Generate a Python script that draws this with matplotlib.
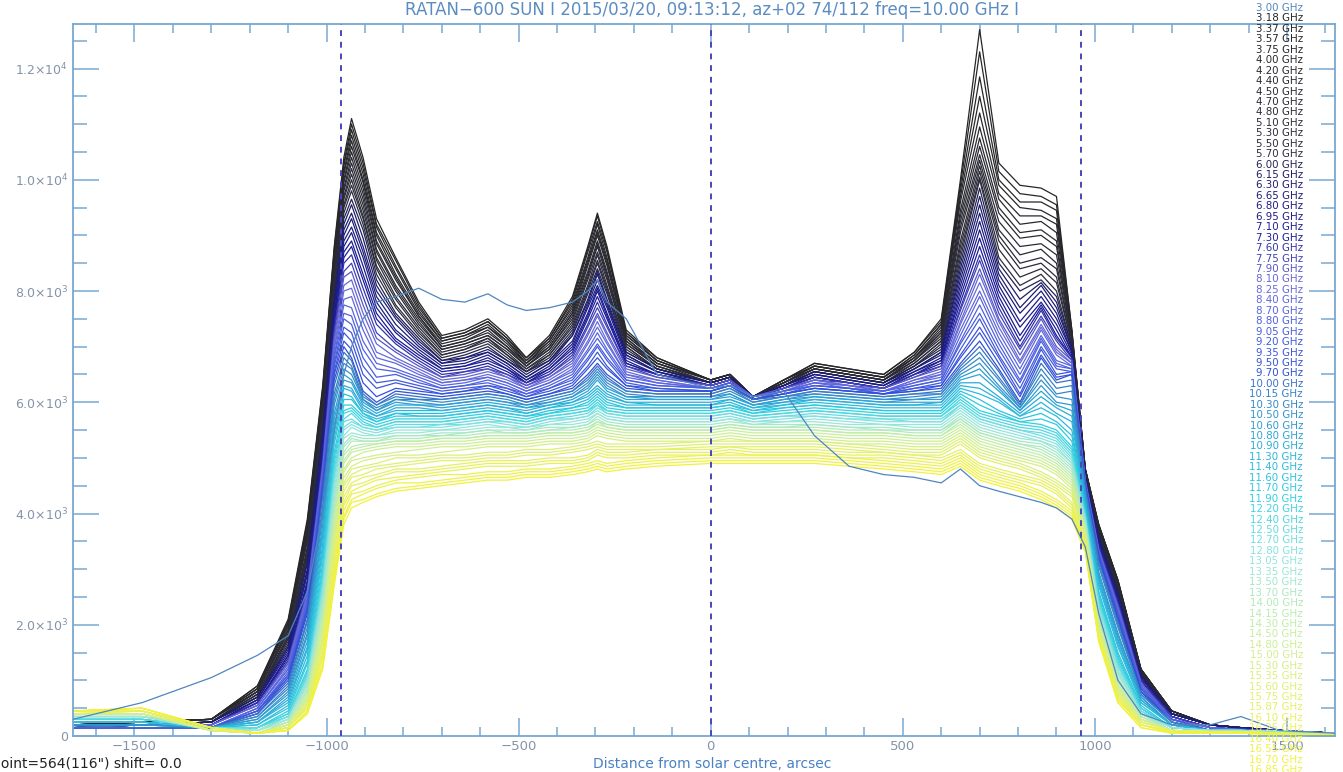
import matplotlib
matplotlib.use("Agg")
import matplotlib.pyplot as plt
from matplotlib.colors import LinearSegmentedColormap
from matplotlib.ticker import MultipleLocator, FuncFormatter
import numpy as np

# frequencies, GHz (index 0 is the odd 3.00 GHz scan)
FREQS = [3.00, 3.18, 3.37, 3.57, 3.75, 4.00, 4.20, 4.40, 4.50, 4.70, 4.80,
         5.10, 5.30, 5.50, 5.70, 6.00, 6.15, 6.30, 6.65, 6.80, 6.95, 7.10,
         7.30, 7.60, 7.75, 7.90, 8.10, 8.25, 8.40, 8.70, 8.80, 9.05, 9.20,
         9.35, 9.50, 9.70, 10.00, 10.15, 10.30, 10.50, 10.60, 10.80, 10.90,
         11.30, 11.40, 11.60, 11.70, 11.90, 12.20, 12.40, 12.50, 12.70, 12.80,
         13.05, 13.35, 13.50, 13.70, 14.00, 14.15, 14.30, 14.50, 14.80, 15.00,
         15.30, 15.35, 15.60, 15.75, 15.87, 16.10, 16.25, 16.40, 16.55, 16.70,
         16.85]

# scan positions, arcsec from solar centre
X_NODES = [-1660, -1480, -1300, -1180, -1100, -1050, -1010, -980, -955, -935,
           -905, -870, -820, -760, -700, -640, -580, -530, -480, -420,
           -360, -320, -295, -270, -220, -140, 0, 50, 110, 190,
           270, 360, 450, 530, 600, 650, 700, 750, 805, 860,
           900, 940, 975, 1010, 1060, 1120, 1200, 1300, 1380, 1480, 1625]

# intensities, in units of 100
ODD_300 = [3, 6, 10.5, 14.5, 18, 26, 40, 55, 65, 70, 75, 78, 79, 80.5, 78.5, 78, 79.5, 77.5, 76.5, 77, 78, 80, 82, 78, 75, 65, 62.5, 63, 61, 62, 54, 48.5, 47, 46.5, 45.5, 48, 45, 44, 43, 42, 41, 39, 34, 22, 10, 4, 2, 2, 3.5, 1, 0.5]

DARK = [
    [2, 2.5, 3, 9, 21, 39, 63, 88, 104, 111, 104, 93, 86, 78, 72, 73, 75, 72, 68, 72, 79, 88, 94, 88, 73, 68, 64, 65, 61, 64, 67, 66, 65, 69, 75, 100, 127, 103, 99, 98.5, 97, 73, 48, 38, 28, 12, 4.5, 2, 1.5, 1, 0.5],
    [2, 2.5, 3, 9, 20.5, 38.5, 62.5, 87.5, 103, 110, 103, 92, 85.5, 77.5, 71.5, 72.5, 74.5, 71.5, 68, 71.5, 78.5, 87.5, 93.5, 87.5, 72.5, 68, 64, 65, 61, 64, 67, 66, 65, 69, 74.5, 99, 123, 101.5, 97.5, 97, 95.5, 73, 48, 38, 28, 12, 4.5, 2, 1.5, 1, 0.5],
    [2, 2.5, 3, 8.5, 20.5, 38, 62, 87, 102.5, 109, 102, 91.5, 84.5, 77, 71.5, 72.5, 74.5, 71.5, 67.5, 71.5, 78, 87, 92.5, 87, 72.5, 67.5, 64, 65, 61, 64, 66.5, 65.5, 64.5, 68.5, 74, 98, 118.5, 100, 96, 96, 94.5, 72.5, 48, 38, 28, 12, 4.5, 2, 1.5, 1, 0.5],
    [2, 2.5, 3, 8.5, 20, 37.5, 61.5, 86.5, 101.5, 108, 101, 90.5, 84, 76.5, 71, 72, 74, 71, 67.5, 71, 77.5, 86, 92, 86, 72, 67.5, 64, 65, 61, 64, 66.5, 65.5, 64.5, 68.5, 74, 97, 115, 99, 95, 94.5, 93, 72.5, 48, 37.5, 27.5, 12, 4.5, 2, 1.5, 1, 0.5],
    [2, 2.5, 3, 8.5, 20, 37, 61, 85.5, 101, 107, 100, 90, 83, 76, 71, 72, 73.5, 71, 67, 71, 77, 85.5, 91, 85.5, 72, 67.5, 64, 65, 61, 63.5, 66.5, 65.5, 64.5, 68, 73.5, 96, 112, 97.5, 93.5, 93.5, 92, 72, 48, 37.5, 27.5, 12, 4.5, 2, 1.5, 1, 0.5],
    [2, 2.5, 3, 8, 19.5, 36.5, 60.5, 85, 100, 106, 99.5, 89, 82.5, 75.5, 70.5, 71.5, 73.5, 70.5, 67, 70.5, 76.5, 85, 90.5, 85, 71.5, 67, 64, 65, 61, 63.5, 66.5, 65.5, 64.5, 68, 73, 94.5, 109.5, 96.5, 92, 92.5, 90.5, 72, 47.5, 37.5, 27.5, 11.5, 4.5, 2, 1.5, 1, 0.5],
    [2, 2.5, 3, 8, 19, 36, 60, 84.5, 99.5, 105, 98.5, 88.5, 82, 75.5, 70, 71, 73, 70, 67, 70, 76, 84.5, 90, 84.5, 71.5, 67, 64, 65, 61, 63.5, 66, 65, 64, 68, 72.5, 93.5, 107.5, 95, 90.5, 91, 89, 71.5, 47.5, 37, 27, 11.5, 4.5, 2, 1.5, 1, 0.5],
    [2, 2, 2.5, 8, 19, 35.5, 59.5, 83.5, 98.5, 104, 97.5, 87.5, 81, 75, 70, 71, 72.5, 70, 66.5, 70, 76, 83.5, 89, 83.5, 71, 67, 63.5, 64.5, 61, 63.5, 66, 65, 64, 67.5, 72.5, 92.5, 106, 94, 89.5, 90, 88, 71.5, 47.5, 37, 27, 11.5, 4, 2, 1.5, 1, 0.5],
    [2, 2, 2.5, 8, 18.5, 35, 59, 83, 98, 103, 96.5, 87, 80.5, 74.5, 69.5, 70.5, 72, 69.5, 66.5, 69.5, 75.5, 83, 88.5, 83, 71, 66.5, 63.5, 64.5, 61, 63.5, 66, 65, 64, 67.5, 72, 91.5, 104.5, 92.5, 88, 88.5, 86.5, 71.5, 47.5, 37, 27, 11.5, 4, 2, 1.5, 1, 0.5],
    [2, 2, 2.5, 7.5, 18, 34, 58, 82.5, 97, 102, 95.5, 86, 80, 74, 69.5, 70.5, 72, 69.5, 66.5, 69.5, 75, 82.5, 88, 82.5, 70.5, 66.5, 63.5, 64.5, 61, 63.5, 66, 65, 64, 67.5, 71.5, 90.5, 103.5, 91, 86.5, 87.5, 85, 71, 47.5, 36.5, 26.5, 11.5, 4, 2, 1.5, 1, 0.5],
    [2, 2, 2.5, 7.5, 18, 33.5, 57.5, 82, 96.5, 101, 94.5, 85.5, 79, 73.5, 69, 70, 71.5, 69, 66, 69, 74.5, 82, 87, 82, 70.5, 66.5, 63.5, 64.5, 61, 63, 66, 65, 64, 67, 71, 89, 102.5, 90, 85, 86, 84, 71, 47, 36.5, 26.5, 11, 4, 2, 1.5, 1, 0.5],
    [2, 2, 2.5, 7.5, 17.5, 33, 57, 81, 95.5, 100, 93.5, 84.5, 78.5, 73, 68.5, 69.5, 71.5, 68.5, 66, 68.5, 74, 81, 86.5, 81, 70, 66, 63.5, 64.5, 61, 63, 65.5, 64.5, 63.5, 67, 71, 88, 101.5, 89, 84, 85, 82.5, 70.5, 47, 36.5, 26.5, 11, 4, 2, 1.5, 1, 0.5],
    [2, 2, 2.5, 7, 17.5, 32.5, 56.5, 80.5, 95, 99, 93, 84, 77.5, 72.5, 68.5, 69.5, 71, 68.5, 65.5, 68.5, 73.5, 80.5, 85.5, 80.5, 70, 66, 63.5, 64.5, 61, 63, 65.5, 64.5, 63.5, 66.5, 70.5, 87, 100.5, 87.5, 82.5, 84, 81.5, 70.5, 47, 36, 26, 11, 4, 2, 1.5, 1, 0.5],
    [2, 2, 2.5, 7, 17, 32, 56, 80, 94, 98, 92, 83, 77, 72, 68, 69, 70.5, 68, 65.5, 68, 73, 80, 85, 80, 69.5, 66, 63.5, 64.5, 61, 63, 65.5, 64.5, 63.5, 66.5, 70, 86, 100, 86, 81, 83, 80, 70, 47, 36, 26, 11, 4, 2, 1.5, 1, 0.5],
]

NAVY = [
    [2, 2, 2.5, 7, 16.5, 31.5, 55, 79, 93, 96.5, 91, 82, 76, 71.5, 67.5, 68.5, 70, 67.5, 65.5, 67.5, 72.5, 79.5, 84, 79.5, 69, 66, 63.5, 64.5, 61, 63, 65.5, 64.5, 63.5, 66.5, 69.5, 85, 98.5, 85, 80, 82, 79, 70, 47, 36, 26, 11, 4, 2, 1.5, 1, 0.5],
    [2, 2, 2.5, 7, 16, 31, 54.5, 78.5, 92, 95.5, 89.5, 81, 75.5, 71, 67.5, 68, 69.5, 67.5, 65, 67.5, 72, 78.5, 83.5, 78.5, 69, 66, 63.5, 64.5, 61, 63, 65.5, 64.5, 63.5, 66, 69, 84, 97, 84, 78.5, 81.5, 78, 69.5, 47, 35.5, 25.5, 11, 4, 2, 1.5, 1, 0.5],
    [2, 2, 2.5, 6.5, 16, 30, 54, 77.5, 91, 94, 88, 80, 75, 70.5, 67, 68, 69, 67, 64.5, 67, 72, 78, 83, 78, 68.5, 65.5, 63.5, 64.5, 61, 63, 65, 64, 63, 66, 69, 83, 95.5, 83, 77, 81, 77, 69.5, 46.5, 35.5, 25, 10.5, 4, 2, 1.5, 1, 0.5],
    [1.5, 2, 2, 6.5, 15.5, 29.5, 53, 77, 90, 93, 87, 79, 74, 70, 67, 67.5, 69, 67, 64.5, 67, 71, 77.5, 82, 77.5, 68.5, 65.5, 63, 64, 61, 63, 65, 64, 63, 66, 68.5, 82, 94, 82, 76, 80, 76, 69, 46.5, 35, 25, 10.5, 4, 2, 1.5, 1, 0.5],
    [1.5, 2, 2, 6.5, 15, 29, 52, 76, 89, 91.5, 86, 78, 73, 69.5, 66.5, 67, 68.5, 66.5, 64, 66.5, 70.5, 77, 81, 77, 68, 65.5, 63, 64, 61, 62.5, 65, 64, 63, 65.5, 68, 81, 92.5, 81, 74.5, 79, 75, 69, 46.5, 35, 25, 10.5, 3.5, 1.5, 1.2, 1, 0.5],
    [1.5, 2, 2, 6, 14.5, 28, 51.5, 75.5, 88, 90.5, 84.5, 77, 72.5, 69, 66, 66.5, 68, 66, 64, 66, 70, 76, 80.5, 76, 67.5, 65, 63, 64, 61, 62.5, 64.5, 63.5, 62.5, 65.5, 67.5, 80, 91, 80, 73.5, 78, 74, 68.5, 46, 34.5, 24.5, 10, 3.5, 1.5, 1.2, 1, 0.5],
    [1.5, 2, 2, 6, 14.5, 27.5, 50.5, 74.5, 87, 89, 83, 76, 71.5, 68.5, 66, 66.5, 67.5, 66, 63.5, 66, 69.5, 75.5, 80, 75.5, 67, 65, 63, 64, 61, 62.5, 64.5, 63.5, 62.5, 65, 67.5, 79, 89.5, 79, 72, 77.5, 73, 68, 46, 34, 24, 10, 3.5, 1.5, 1.2, 1, 0.5],
    [1.5, 2, 2, 6, 14, 27, 50, 74, 86, 88, 82, 75, 71, 68, 65.5, 66, 67, 65.5, 63.5, 65.5, 69, 75, 79, 75, 67, 65, 63, 64, 61, 62.5, 64.5, 63.5, 62.5, 65, 67, 78, 88, 78, 71, 77, 72, 68, 46, 34, 24, 10, 3.5, 1.5, 1.2, 1, 0.5],
]

VIOLET = [
    [1.5, 2, 2, 6, 13.5, 26.5, 49.5, 73, 85, 86.5, 80.5, 74, 70.5, 67.5, 65, 65.5, 66.5, 65, 63.5, 65, 68.5, 74, 78, 74, 66.5, 65, 63, 64, 61, 62.5, 64.5, 63.5, 62.5, 65, 66.5, 77, 86.5, 77, 70, 76.5, 71.5, 68, 46, 34, 24, 10, 3.5, 1.5, 1.2, 1, 0.5],
    [1.5, 2, 2, 5.5, 13.5, 26, 49, 72.5, 83.5, 85, 79, 72.5, 69.5, 67, 64.5, 65.5, 66, 65, 63, 65, 68, 73.5, 77, 73.5, 66.5, 64.5, 63, 64, 61, 62.5, 64, 63.5, 62.5, 64.5, 66.5, 76.5, 85.5, 76, 69.5, 75.5, 71, 67.5, 46, 33.5, 23.5, 9.5, 3.5, 1.5, 1.2, 1, 0.5],
    [1.5, 2, 2, 5.5, 13, 26, 48.5, 71.5, 82.5, 83.5, 77.5, 71.5, 69, 66.5, 64.5, 65, 66, 64.5, 63, 64.5, 67.5, 72.5, 76, 72.5, 66, 64.5, 63, 64, 61, 62.5, 64, 63, 62.5, 64.5, 66, 75.5, 84, 75, 68.5, 75, 70, 67.5, 46, 33.5, 23.5, 9.5, 3, 1.5, 1.2, 1, 0.5],
    [1.5, 2, 2, 5.5, 13, 25.5, 48, 71, 81, 82, 76, 70.5, 68, 66, 64, 64.5, 65.5, 64.5, 62.5, 64.5, 67, 72, 75.5, 72, 65.5, 64, 62.5, 63.5, 61, 62, 64, 63, 62, 64, 65.5, 74.5, 83, 74.5, 67.5, 74, 69.5, 67, 45.5, 33.5, 23, 9.5, 3, 1.5, 1.1, 0.9, 0.5],
    [1.5, 1.5, 1.5, 5, 12.5, 25, 47.5, 70, 80, 80.5, 74.5, 69, 67.5, 65.5, 63.5, 64, 65, 64, 62.5, 64, 66.5, 71, 74.5, 71, 65, 64, 62.5, 63.5, 61, 62, 63.5, 63, 62, 64, 65, 74, 81.5, 73.5, 67, 73.5, 69, 67, 45.5, 33, 23, 9, 3, 1.5, 1.1, 0.9, 0.5],
    [1.5, 1.5, 1.5, 5, 12, 24.5, 47, 69.5, 78.5, 79, 73, 68, 67, 65, 63.5, 64, 64.5, 63.5, 62, 63.5, 66, 70.5, 73.5, 70.5, 65, 63.5, 62.5, 63.5, 61, 62, 63.5, 63, 62, 63.5, 65, 73, 80, 72.5, 66, 73, 68.5, 66.5, 45.5, 33, 22.5, 9, 3, 1.5, 1.1, 0.9, 0.5],
    [1.5, 1.5, 1.5, 5, 12, 24.5, 47, 68.5, 77.5, 77, 71, 67, 66, 64.5, 63, 63.5, 64.5, 63.5, 62, 63.5, 65.5, 69.5, 72.5, 69.5, 64.5, 63.5, 62.5, 63.5, 61, 62, 63.5, 62.5, 62, 63.5, 64.5, 72, 79, 71.5, 65, 72, 67.5, 66.5, 45.5, 33, 22.5, 9, 3, 1, 1.1, 0.9, 0.5],
    [1.5, 1.5, 1.5, 4.5, 11.5, 24, 46.5, 68, 76, 75.5, 69.5, 66, 65.5, 64, 62.5, 63, 64, 63, 61.5, 63, 65, 69, 71.5, 69, 64, 63, 62.5, 63.5, 60.5, 62, 63, 62.5, 62, 63, 64, 71, 77.5, 70.5, 64, 71.5, 67, 66, 45.5, 33, 22, 9, 3, 1, 1.1, 0.9, 0.5],
    [1.5, 1.5, 1.5, 4.5, 11, 23.5, 46, 67, 75, 74, 68, 64.5, 65, 63.5, 62.5, 63, 63.5, 62.5, 61.5, 62.5, 64.5, 68, 70.5, 68, 64, 63, 62.5, 63.5, 60.5, 62, 63, 62.5, 61.5, 63, 64, 70.5, 76, 69.5, 63.5, 71, 66.5, 66, 45.5, 32.5, 22, 8.5, 3, 1, 1, 0.9, 0.5],
    [1.5, 1.5, 1.5, 4.5, 11, 23, 45.5, 66.5, 73.5, 72.5, 66.5, 63.5, 64, 63, 62, 62.5, 63, 62.5, 61, 62.5, 64, 67.5, 70, 67.5, 63.5, 62.5, 62, 63, 60.5, 61.5, 63, 62.5, 61.5, 62.5, 63.5, 69.5, 75, 68.5, 62.5, 70, 66, 65.5, 45, 32.5, 21.5, 8.5, 2.5, 1, 1, 0.8, 0.5],
    [1.5, 1.5, 1.5, 4.5, 10.5, 23, 45, 65.5, 72.5, 71, 65, 62.5, 63.5, 62.5, 61.5, 62, 63, 62, 61, 62, 63.5, 66.5, 69, 66.5, 63, 62.5, 62, 63, 60.5, 61.5, 62.5, 62, 61.5, 62.5, 63, 68.5, 73.5, 68, 61.5, 69.5, 65, 65.5, 45, 32.5, 21.5, 8.5, 2.5, 1, 1, 0.8, 0.5],
    [1.5, 1.5, 1.5, 4, 10.5, 22.5, 44.5, 65, 71, 69.5, 63.5, 61, 62.5, 62, 61.5, 62, 62.5, 61.5, 60.5, 61.5, 63, 66, 68, 66, 63, 62, 62, 63, 60.5, 61.5, 62.5, 62, 61.5, 62, 63, 68, 72.5, 67, 61, 68.5, 64.5, 65, 45, 32, 21, 8, 2.5, 1, 1, 0.8, 0.5],
    [1.5, 1.5, 1.5, 4, 10, 22, 44, 64, 70, 68, 62, 60, 62, 61.5, 61, 61.5, 62, 61.5, 60.5, 61.5, 62.5, 65, 67, 65, 62.5, 62, 62, 63, 60.5, 61.5, 62.5, 62, 61.5, 62, 62.5, 67, 71, 66, 60, 68, 64, 65, 45, 32, 21, 8, 2.5, 1, 1, 0.8, 0.5],
]

STEEL = [
    [1.5, 1.5, 1.5, 4, 9.5, 21, 43, 63, 69, 67.5, 61.5, 59.5, 61.5, 61, 60.5, 61, 61.5, 61, 60, 61, 62, 64.5, 66.5, 64.5, 62, 61.5, 61.5, 62.5, 60.5, 61, 62, 61.5, 61, 61.5, 62, 66.5, 70, 65.5, 59.5, 67, 63.5, 64, 44.5, 31.5, 20.5, 7.5, 2.5, 1, 1, 0.8, 0.5],
    [2, 2, 1.5, 3.5, 9, 20.5, 41.5, 61.5, 68, 66.5, 61, 59.5, 61, 60.5, 60.5, 61, 61.5, 61, 60, 61, 62, 64, 66, 64, 62, 61.5, 61.5, 62.5, 60, 61, 62, 61.5, 61, 61.5, 61.5, 66, 69, 64.5, 59.5, 66, 62.5, 63, 44, 31, 20, 7.5, 2.5, 1, 1, 0.8, 0.5],
    [2, 2, 1.5, 3.5, 8.5, 19.5, 40.5, 60.5, 67, 66, 60.5, 59, 60.5, 60.5, 60, 60.5, 61, 60.5, 59.5, 60.5, 61.5, 63.5, 65.5, 63.5, 61.5, 61, 61, 62, 60, 61, 61.5, 61, 60.5, 61, 61.5, 65.5, 68, 64, 59, 65, 61.5, 62, 44, 30.5, 19.5, 7.5, 2.5, 1, 1, 0.8, 0.5],
    [2, 2, 1.5, 3, 8, 18.5, 39.5, 59.5, 66, 65, 60.5, 58.5, 60.5, 60, 59.5, 60, 60.5, 60, 59.5, 60, 61, 63, 65, 63, 61, 61, 61, 61.5, 59.5, 60.5, 61.5, 61, 60.5, 60.5, 61, 65, 67, 63, 59, 64, 61, 60.5, 43.5, 29.5, 18.5, 7, 2, 1, 1, 0.8, 0.5],
    [2, 2, 1.5, 3, 7.5, 18, 38, 58, 65, 64, 60, 58.5, 60, 59.5, 59.5, 60, 60.5, 60, 59, 60, 61, 62.5, 64.5, 62.5, 61, 60.5, 60.5, 61.5, 59.5, 60.5, 61, 60.5, 60, 60.5, 60.5, 64.5, 66, 62.5, 58.5, 63, 60, 59.5, 43, 29, 18, 7, 2, 1, 1, 0.8, 0.5],
    [2.5, 2.5, 1.5, 2.5, 7, 17, 37, 57, 64, 63.5, 59.5, 58, 59.5, 59.5, 59, 59.5, 60, 59.5, 59, 59.5, 60.5, 62, 64, 62, 60.5, 60.5, 60.5, 61, 59.5, 60, 61, 60.5, 60, 60, 60, 64, 65, 62, 58.5, 62, 59.5, 58.5, 42.5, 28.5, 17.5, 6.5, 2, 1, 1, 0.8, 0.5],
    [2.5, 2.5, 1.5, 2.5, 6.5, 16, 36, 56, 63, 62.5, 59, 57.5, 59, 59, 58.5, 59, 59.5, 59, 58.5, 59.5, 60, 61.5, 63, 61.5, 60, 60, 60, 60.5, 59, 60, 60.5, 60, 59.5, 59.5, 60, 63.5, 63.5, 61, 58, 61, 59, 57.5, 42, 28, 17, 6.5, 2, 1, 1, 0.8, 0.5],
    [2.5, 2.5, 1.5, 2.5, 6, 15.5, 34.5, 54.5, 62.5, 62, 58.5, 57.5, 58.5, 58.5, 58.5, 59, 59.5, 59, 58, 59, 60, 61, 62.5, 61, 60, 59.5, 59.5, 60.5, 59, 59.5, 60.5, 60, 59.5, 59.5, 59.5, 63, 62.5, 60.5, 57.5, 60, 58, 56.5, 41.5, 27.5, 16.5, 6, 2, 1, 1, 0.8, 0.5],
    [2.5, 2.5, 1.5, 2, 5.5, 14.5, 33.5, 53.5, 61.5, 61, 58, 57, 58, 58, 58, 58.5, 59, 58.5, 58, 59, 59.5, 60.5, 62, 60.5, 59.5, 59.5, 59.5, 60, 58.5, 59.5, 60, 59.5, 59, 59, 59, 62.5, 61.5, 60, 57.5, 59, 57.5, 55, 41, 27, 16, 6, 2, 1, 1, 0.8, 0.5],
    [2.5, 2.5, 1.5, 2, 5, 13.5, 32.5, 52.5, 60.5, 60.5, 58, 56.5, 58, 57.5, 57.5, 58, 58.5, 58, 57.5, 58.5, 59, 60, 61.5, 60, 59, 59, 59, 59.5, 58.5, 59, 59.5, 59, 58.5, 58.5, 58.5, 62, 60.5, 58.5, 57, 58, 56.5, 54, 41, 26, 15, 5.5, 1.5, 1, 1, 0.8, 0.5],
    [3, 3, 1.5, 1.5, 4.5, 13, 31, 51, 59.5, 59.5, 57.5, 56.5, 57.5, 57.5, 57.5, 58, 58.5, 58, 57.5, 58, 59, 59.5, 61, 59.5, 59, 59, 59, 59.5, 58, 59, 59.5, 59, 58.5, 58.5, 58.5, 61.5, 59.5, 58, 56.5, 57, 56, 53, 40.5, 25.5, 14.5, 5, 1.5, 1, 1, 0.8, 0.5],
    [3, 3, 1.5, 1.5, 4, 12, 30, 50, 58.5, 59, 57, 56, 57, 57, 57, 57.5, 58, 57.5, 57, 58, 58.5, 59, 60.5, 59, 58.5, 58.5, 58.5, 59, 58, 58.5, 59, 58.5, 58, 58, 58, 61, 58.5, 57.5, 56.5, 56, 55, 52, 40, 25, 14, 5, 1.5, 1, 1, 0.8, 0.5],
]

CYAN = [
    [3, 3, 1.5, 1.5, 4, 11.5, 29, 49, 58, 58.5, 56.5, 55.5, 56.5, 56.5, 56.5, 57, 57.5, 57, 56.5, 57.5, 58, 58.5, 60, 58.5, 58, 58, 58, 58.5, 57.5, 58, 58.5, 58, 57.5, 57.5, 57.5, 60.5, 58, 57, 56, 55.5, 54.5, 51.5, 40, 24.5, 13.5, 5, 1.5, 1, 1, 0.8, 0.5],
    [3, 3, 1.5, 1.5, 3.5, 11, 28.5, 48, 57, 58, 56, 55.5, 56.5, 56.5, 56.5, 57, 57.5, 57, 56.5, 57.5, 58, 58.5, 59.5, 58.5, 58, 58, 58, 58.5, 57.5, 58, 58.5, 58, 57.5, 57.5, 57.5, 60, 57.5, 56.5, 55.5, 55, 54, 51, 39.5, 24, 13, 4.5, 1.5, 1, 1, 0.8, 0.5],
    [3.5, 3.5, 1.5, 1.5, 3.5, 11, 27.5, 47, 56.5, 57, 55.5, 55, 56, 56, 56, 56.5, 57, 56.5, 56, 57, 57.5, 58, 59.5, 58, 57.5, 57.5, 57.5, 58, 57, 57.5, 58, 57.5, 57, 57, 57, 59.5, 57, 56, 55, 54.5, 53.5, 50.5, 39.5, 24, 13, 4.5, 1.5, 1, 1, 0.8, 0.5],
    [3.5, 3.5, 1.5, 1, 3.5, 10.5, 27, 46.5, 55.5, 56.5, 55.5, 55, 55.5, 55.5, 56, 56, 56.5, 56.5, 56, 57, 57, 57.5, 59, 58, 57.5, 57.5, 57.5, 58, 57, 57.5, 57.5, 57, 57, 56.5, 56.5, 59.5, 57, 56, 55, 54, 53, 50, 39, 23.5, 12.5, 4.5, 1.5, 1, 1, 0.8, 0.5],
    [3.5, 3.5, 1.5, 1, 3, 10, 26, 45.5, 55, 56, 55, 54.5, 55.5, 55.5, 55.5, 56, 56.5, 56, 55.5, 56.5, 57, 57.5, 58.5, 57.5, 57, 57, 57, 57.5, 56.5, 57, 57.5, 57, 56.5, 56.5, 56.5, 59, 56.5, 55.5, 54.5, 53.5, 52.5, 49.5, 39, 23, 12, 4, 1.5, 1, 1, 0.8, 0.5],
    [3.5, 3.5, 1.5, 1, 3, 9.5, 25.5, 44.5, 54, 55.5, 54.5, 54, 55, 55, 55, 55.5, 56, 55.5, 55.5, 56, 56.5, 57, 58, 57, 56.5, 56.5, 56.5, 57, 56.5, 56.5, 57, 56.5, 56, 56, 56, 58.5, 56, 55, 54, 53, 52, 49, 38.5, 22.5, 11.5, 4, 1.5, 1, 1, 0.8, 0.5],
    [3.5, 3.5, 1, 1, 3, 9.5, 24.5, 43.5, 53.5, 54.5, 54, 54, 54.5, 54.5, 55, 55, 55.5, 55.5, 55, 56, 56, 56.5, 58, 57, 56.5, 56.5, 56.5, 57, 56, 56.5, 56.5, 56, 56, 55.5, 55.5, 58, 55.5, 54.5, 53.5, 53, 51.5, 49, 38.5, 22.5, 11.5, 4, 1, 0.8, 0.8, 0.5, 0.3],
    [3.5, 3.5, 1, 1, 3, 9, 24, 42.5, 52.5, 54, 53.5, 53.5, 54, 54, 54.5, 54.5, 55, 55, 55, 55.5, 55.5, 56, 57.5, 56.5, 56, 56, 56, 56.5, 56, 56, 56, 55.5, 55.5, 55, 55, 57.5, 55, 54, 53, 52.5, 51, 48.5, 38, 22, 11, 4, 1, 0.8, 0.8, 0.5, 0.3],
    [4, 4, 1, 1, 2.5, 8.5, 23, 41.5, 52, 53.5, 53, 53, 54, 54, 54, 54.5, 55, 54.5, 54.5, 55, 55.5, 56, 57, 56, 55.5, 55.5, 55.5, 56, 55.5, 55.5, 56, 55.5, 55, 55, 55, 57, 54.5, 53.5, 52.5, 52, 50.5, 48, 38, 21.5, 10.5, 3.5, 1, 0.8, 0.8, 0.5, 0.3],
    [4, 4, 1, 0.5, 2.5, 8, 22.5, 41, 51, 53, 53, 53, 53.5, 53.5, 54, 54, 54.5, 54.5, 54.5, 55, 55, 55.5, 56.5, 56, 55.5, 55.5, 55.5, 56, 55.5, 55.5, 55.5, 55, 55, 54.5, 54.5, 57, 54.5, 53.5, 52.5, 51.5, 50, 47.5, 37.5, 21, 10, 3.5, 1, 0.8, 0.8, 0.5, 0.3],
    [4, 4, 1, 0.5, 2.5, 8, 21.5, 40, 50.5, 52, 52.5, 52.5, 53, 53, 53.5, 53.5, 54, 54, 54, 54.5, 54.5, 55, 56.5, 55.5, 55, 55, 55, 55.5, 55, 55, 55, 54.5, 54.5, 54, 54, 56.5, 54, 53, 52, 51, 49.5, 47, 37.5, 21, 10, 3.5, 1, 0.8, 0.8, 0.5, 0.3],
    [4, 4, 1, 0.5, 2, 7.5, 21, 39, 49.5, 51.5, 52, 52.5, 53, 53, 53.5, 53.5, 54, 54, 54, 54.5, 54.5, 55, 56, 55.5, 55, 55, 55, 55.5, 55, 55, 55, 54.5, 54.5, 54, 54, 56, 53.5, 52.5, 51.5, 50.5, 49, 46.5, 37, 20.5, 9.5, 3, 1, 0.8, 0.8, 0.5, 0.3],
    [4, 4, 1, 0.5, 2, 7, 20, 38, 49, 51, 51.5, 52, 52.5, 52.5, 53, 53, 53.5, 53.5, 53.5, 54, 54, 54.5, 55.5, 55, 54.5, 54.5, 54.5, 55, 54.5, 54.5, 54.5, 54, 54, 53.5, 53.5, 55.5, 53, 52, 51, 50, 48.5, 46, 37, 20, 9, 3, 1, 0.8, 0.8, 0.5, 0.3],
]

YELLOW = [
    [4, 4, 1, 0.5, 2, 7, 19.5, 37, 48, 50, 51, 51.5, 52, 52, 52.5, 52.5, 53, 53, 53, 53.5, 53.5, 54, 55, 54.5, 54, 54, 54, 54.5, 54, 54, 54, 53.5, 53.5, 53, 53, 55, 52.5, 51.5, 50.5, 49.5, 48, 45.5, 36.5, 20, 9, 3, 1, 0.8, 0.8, 0.5, 0.3],
    [4, 4, 1, 0.5, 2, 6.5, 19, 36.5, 47.5, 49.5, 50, 50.5, 51, 51.5, 52, 52, 52.5, 52.5, 52.5, 53, 53, 53.5, 54.5, 54, 53.5, 53.5, 53.5, 54, 53.5, 53.5, 53.5, 53, 53, 52.5, 52.5, 54.5, 52, 51, 50, 49, 47.5, 45, 36.5, 19.5, 8.5, 3, 1, 0.8, 0.8, 0.5, 0.3],
    [4, 4, 1, 0.5, 2, 6.5, 18, 35.5, 46.5, 48.5, 49.5, 50, 50.5, 50.5, 51, 51.5, 52, 52, 52, 52.5, 52.5, 53, 54, 53.5, 53, 53, 53, 53.5, 53, 53, 53, 52.5, 52.5, 52, 52, 54, 51.5, 50.5, 49.5, 48.5, 47, 44.5, 36, 19.5, 8.5, 2.5, 1, 0.8, 0.8, 0.5, 0.3],
    [4, 4.5, 1, 0.5, 1.5, 6, 17.5, 34.5, 45.5, 48, 48.5, 49, 50, 50, 50.5, 50.5, 51, 51, 51.5, 51.5, 52, 52.5, 53, 52.5, 52.5, 52.5, 53, 53, 53, 53, 53, 52.5, 52, 51.5, 51.5, 53.5, 51, 50, 49, 47.5, 46, 44, 36, 19, 8, 2.5, 1, 0.8, 0.8, 0.5, 0.3],
    [4, 4.5, 1, 0.5, 1.5, 6, 17, 34, 45, 47, 48, 48.5, 49, 49.5, 50, 50, 50.5, 50.5, 51, 51, 51.5, 52, 52.5, 52, 52, 52, 52.5, 52.5, 52.5, 52.5, 52.5, 52, 51.5, 51, 51, 53, 50.5, 49.5, 48.5, 47, 45.5, 43.5, 35.5, 19, 8, 2.5, 1, 0.8, 0.8, 0.5, 0.3],
    [4, 4.5, 1, 0.5, 1.5, 5.5, 16.5, 33, 44, 46.5, 47, 48, 48.5, 49, 49.5, 49.5, 50, 50, 50.5, 50.5, 51, 51.5, 52, 51.5, 51.5, 51.5, 52, 52, 52, 52, 52, 51.5, 51, 50.5, 50.5, 52.5, 50, 49, 48, 46.5, 45, 43, 35, 18.5, 7.5, 2.5, 1, 0.8, 0.8, 0.5, 0.3],
    [4.5, 4.5, 1.5, 0.5, 1.5, 5.5, 15.5, 32, 43, 45.5, 46.5, 47, 48, 48, 48.5, 49, 49.5, 49.5, 49.5, 50, 50, 50.5, 51.5, 51, 51, 51.5, 51.5, 52, 51.5, 51.5, 51.5, 51, 51, 50.5, 50, 51.5, 49, 48, 47, 46, 44.5, 42, 35, 18.5, 7.5, 2, 0.8, 0.7, 0.7, 0.4, 0.3],
    [4.5, 4.5, 1.5, 0.5, 1.5, 5, 15, 31, 42, 45, 45.5, 46.5, 47.5, 47.5, 48, 48.5, 49, 49, 49, 49.5, 49.5, 50, 51, 50.5, 50.5, 51, 51, 51.5, 51, 51, 51, 50.5, 50.5, 50, 49.5, 51, 48.5, 47.5, 46.5, 45.5, 44, 41.5, 34.5, 18, 7, 2, 0.8, 0.7, 0.7, 0.4, 0.3],
    [4.5, 4.5, 1.5, 0.5, 1.5, 5, 14.5, 30.5, 41.5, 44, 45, 46, 46.5, 47, 47.5, 48, 48.5, 48.5, 48.5, 49, 49, 49.5, 50.5, 50, 50, 50.5, 50.5, 51, 50.5, 50.5, 50.5, 50, 50, 49.5, 49, 50.5, 48, 47, 46, 45, 43.5, 41, 34, 18, 7, 2, 0.8, 0.7, 0.7, 0.4, 0.3],
    [4.5, 5, 1.5, 0.5, 1, 4.5, 14, 29.5, 40.5, 43.5, 44, 45, 46, 46.5, 47, 47, 47.5, 47.5, 48, 48, 48.5, 49, 49.5, 49, 49.5, 50, 50.5, 50.5, 50.5, 50.5, 50.5, 50, 49.5, 49, 48.5, 50, 47.5, 46.5, 45.5, 44, 42.5, 40.5, 34, 17.5, 6.5, 2, 0.7, 0.6, 0.6, 0.4, 0.2],
    [4.5, 5, 1.5, 0.5, 1, 4.5, 13, 28.5, 39.5, 42.5, 43.5, 44.5, 45.5, 45.5, 46, 46.5, 47, 47, 47.5, 47.5, 48, 48.5, 49, 48.5, 49, 49.5, 50, 50, 50, 50, 50, 49.5, 49, 48.5, 48, 49.5, 47, 46, 45, 43.5, 42, 40, 33.5, 17.5, 6.5, 2, 0.6, 0.6, 0.6, 0.3, 0.2],
    [4.5, 5, 1.5, 0.5, 1, 4, 12.5, 28, 39, 42, 42.5, 43.5, 44.5, 45, 45.5, 46, 46.5, 46.5, 47, 47, 47.5, 48, 48.5, 48, 48.5, 49, 49.5, 49.5, 49.5, 49.5, 49.5, 49, 48.5, 48, 47.5, 49, 46.5, 45.5, 44.5, 43, 41.5, 39.5, 33.5, 17, 6, 1.5, 0.5, 0.5, 0.5, 0.3, 0.2],
    [4.5, 5, 1.5, 0.5, 1, 4, 12, 27, 38, 41, 42, 43, 44, 44.5, 45, 45.5, 46, 46, 46.5, 46.5, 47, 47.5, 48, 47.5, 48, 48.5, 49, 49, 49, 49, 49, 48.5, 48, 47.5, 47, 48.5, 46, 45, 44, 42.5, 41, 39, 33, 17, 6, 1.5, 0.5, 0.5, 0.5, 0.3, 0.2],
]

SCANS = DARK + NAVY + VIOLET + STEEL + CYAN + YELLOW
LIMB = 963  # solar radius, arcsec

AXIS_BLUE = "#78a8d2"
LABEL_GREY = "#8494a8"
ODD_COLOR = "#4f86bf"

cmap = LinearSegmentedColormap.from_list("ratan", [
    (0.00, "#262626"), (0.18, "#2c2c3e"), (0.20, "#1e1e62"), (0.29, "#1c1c9c"),
    (0.35, "#6e6ed8"), (0.40, "#5262e0"), (0.47, "#3050d8"), (0.49, "#3a78c0"),
    (0.56, "#2aa8d8"), (0.64, "#30d0e0"), (0.72, "#92e4e0"), (0.82, "#c8eea0"),
    (0.90, "#e2f070"), (1.00, "#f2f23a")])

colors = [ODD_COLOR] + [cmap(i / (len(SCANS) - 1)) for i in range(len(SCANS))]

fig = plt.figure(figsize=(13.43, 7.72), dpi=100)
ax = fig.add_axes([73 / 1343, 36 / 772, 1262 / 1343, 712 / 772])

x = np.array(X_NODES)
for row, c in zip(SCANS, colors[1:]):
    ax.plot(x, np.array(row) * 100, color=c, lw=0.9, zorder=2)
ax.plot(x, np.array(ODD_300) * 100, color=ODD_COLOR, lw=0.9, zorder=3)

for xv in (-LIMB, 0, LIMB):
    ax.axvline(xv, color="#4848b8", lw=1.4, ls=(0, (3, 3)), zorder=4)

ax.set_xlim(-1660, 1625)
ax.set_ylim(0, 12800)

ax.xaxis.set_major_locator(MultipleLocator(500))
ax.xaxis.set_minor_locator(MultipleLocator(100))
ax.yaxis.set_major_locator(MultipleLocator(2000))
ax.yaxis.set_minor_locator(MultipleLocator(500))


def sci(v, pos):
    if v <= 0:
        return "0" if v == 0 else ""
    e = int(np.floor(np.log10(v)))
    return r"$%.1f{\times}10^{%d}$" % (v / 10 ** e, e)


ax.yaxis.set_major_formatter(FuncFormatter(sci))
ax.xaxis.set_major_formatter(FuncFormatter(lambda v, p: f"{int(v)}".replace("-", "\u2212")))

ax.tick_params(which="both", direction="in", top=True, right=True,
               color=AXIS_BLUE, width=1.1, labelcolor=LABEL_GREY)
ax.tick_params(axis="x", which="major", length=13, pad=3, labelsize=9.5)
ax.tick_params(axis="x", which="minor", length=6.5)
ax.tick_params(axis="y", which="major", length=18.5, pad=3.5, labelsize=9)
ax.tick_params(axis="y", which="minor", length=10)
for s in ax.spines.values():
    s.set_color(AXIS_BLUE)
    s.set_linewidth(1.3)

fig.text(712 / 1343, 1 - 10 / 772,
         "RATAN\u2212600 SUN I 2015/03/20, 09:13:12, az+02 74/112 freq=10.00 GHz I",
         ha="center", va="center", fontsize=12, color="#5a8cc2")
fig.text(712 / 1343, 1 - 764 / 772, "Distance from solar centre, arcsec",
         ha="center", va="center", fontsize=10, color="#4a82c4")
fig.text(-0.006, 1 - 764 / 772, 'point=564(116") shift= 0.0',
         ha="left", va="center", fontsize=10, color="#222222")

# frequency list down the right edge
for i, (f, c) in enumerate(zip(FREQS, colors)):
    fig.text(1303 / 1343, 1 - (8 + 10.44 * i) / 772, f"{f:.2f} GHz",
             ha="right", va="center", fontsize=7.4, color=c)

fig.savefig("out.png", dpi=100, facecolor="white")
